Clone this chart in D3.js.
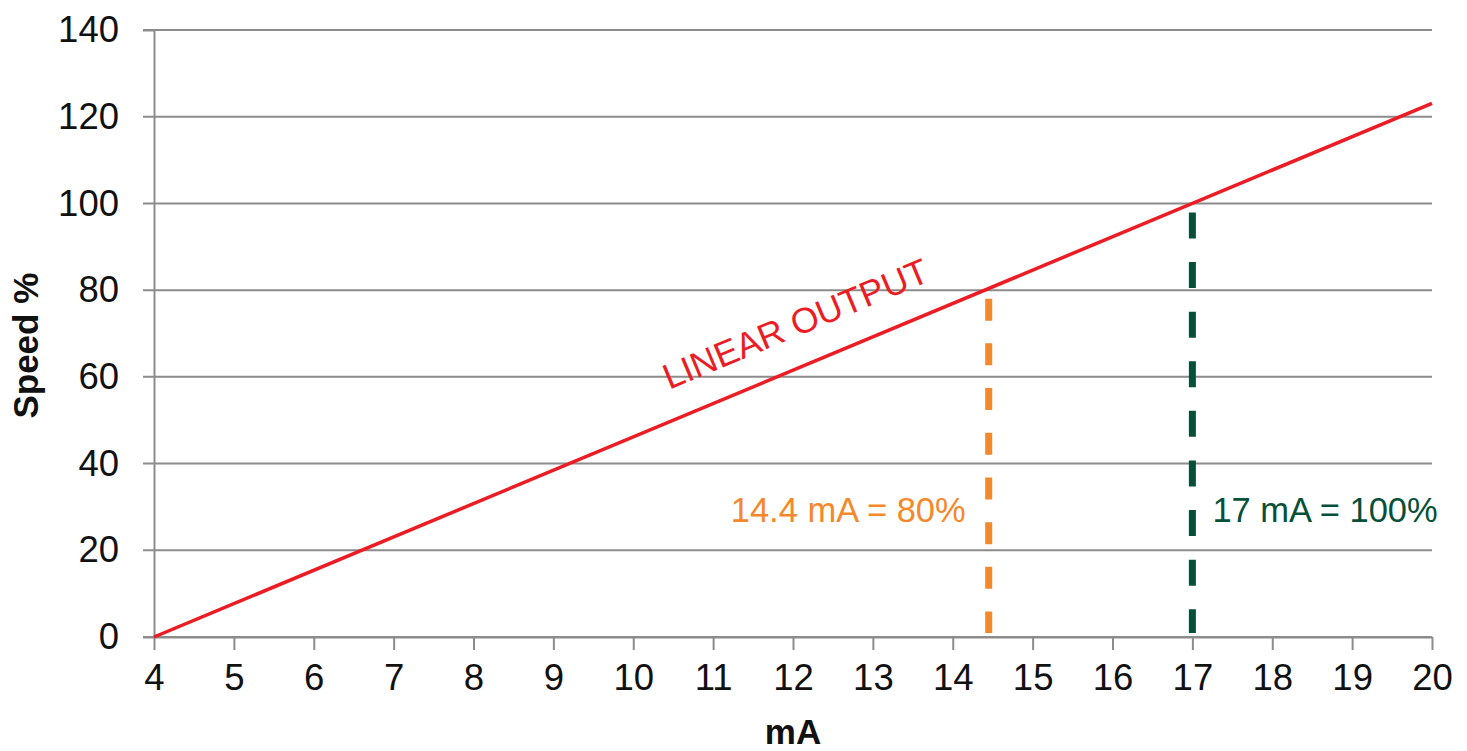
<!DOCTYPE html>
<html>
<head>
<meta charset="utf-8">
<script src="https://cdn.jsdelivr.net/npm/d3@7"></script>
<style>
  body { margin: 0; background: #fff; }
  svg { display: block; font-family: "Liberation Sans", Arial, sans-serif; }
</style>
</head>
<body>
<div id="chart"></div>
<script>
// Data
const lineMA = [4, 20];
const lineSpeed = [0, 123.08];
const xTicks = [4, 5, 6, 7, 8, 9, 10, 11, 12, 13, 14, 15, 16, 17, 18, 19, 20];
const yTicks = [0, 20, 40, 60, 80, 100, 120, 140];
const markerMA = [14.45, 17];
const markerSpeed = [80, 100];
const markerLabels = ["14.4 mA = 80%", "17 mA = 100%"];

const W = 1467, H = 751;
const margin = { top: 30, right: 35, bottom: 114, left: 154 };
const width = W - margin.left - margin.right;
const height = H - margin.top - margin.bottom;

const svg = d3.select("#chart").append("svg")
    .attr("width", W)
    .attr("height", H);

const g = svg.append("g")
    .attr("transform", `translate(${margin.left},${margin.top})`);

const x = d3.scaleLinear().domain([4, 20]).range([0, width]);
const y = d3.scaleLinear().domain([0, 140]).range([height, 0]);

const gray = "#8c8c8c";

// Gridlines (extend left of the axis as ticks)
g.append("g")
    .selectAll("line")
    .data(yTicks)
    .enter().append("line")
    .attr("x1", -11)
    .attr("x2", width)
    .attr("y1", d => y(d))
    .attr("y2", d => y(d))
    .attr("stroke", gray)
    .attr("stroke-width", 2);

// Y axis
const yAxis = g.append("g")
    .call(d3.axisLeft(y).tickValues(yTicks).tickSize(11).tickPadding(24));
yAxis.select(".domain").attr("stroke", gray).attr("stroke-width", 2);
yAxis.selectAll(".tick line").remove();
yAxis.selectAll("text")
    .style("font-size", "36.5px")
    .attr("fill", "#111");

// X axis
const xAxis = g.append("g")
    .attr("transform", `translate(0,${height})`)
    .call(d3.axisBottom(x).tickValues(xTicks).tickSize(13).tickSizeOuter(0).tickPadding(14));
xAxis.select(".domain").attr("stroke", gray).attr("stroke-width", 2);
xAxis.selectAll(".tick line").attr("stroke", gray).attr("stroke-width", 2);
xAxis.selectAll("text")
    .style("font-size", "36.5px")
    .attr("fill", "#111");

// Axis titles
svg.append("text")
    .attr("transform", `translate(38,${margin.top + height * 0.52}) rotate(-90)`)
    .attr("text-anchor", "middle")
    .style("font-size", "35px")
    .style("font-weight", "bold")
    .attr("fill", "#111")
    .text("Speed %");

svg.append("text")
    .attr("x", margin.left + width / 2)
    .attr("y", 744)
    .attr("text-anchor", "middle")
    .style("font-size", "35px")
    .style("font-weight", "bold")
    .attr("fill", "#111")
    .text("mA");

// Dashed marker lines
const markerColors = ["#f5882a", "#06503a"];
const markerDash = ["22 22.7", "26 23.6"];
const markerTopGap = [8.5, 9];

g.append("g")
    .selectAll("line")
    .data(markerMA)
    .enter().append("line")
    .attr("x1", d => x(d))
    .attr("x2", d => x(d))
    .attr("y1", (d, i) => y(markerSpeed[i]) + markerTopGap[i])
    .attr("y2", y(0) - 4)
    .attr("stroke", (d, i) => markerColors[i])
    .attr("stroke-width", 7)
    .attr("stroke-dasharray", (d, i) => markerDash[i]);

// Marker labels
g.append("text")
    .attr("x", x(markerMA[0]) - 23)
    .attr("y", 492)
    .attr("text-anchor", "end")
    .style("font-size", "34.5px")
    .attr("fill", markerColors[0])
    .text(markerLabels[0]);

g.append("text")
    .attr("x", x(markerMA[1]) + 20)
    .attr("y", 492)
    .attr("text-anchor", "start")
    .style("font-size", "34.5px")
    .attr("fill", markerColors[1])
    .text(markerLabels[1]);

// Linear output line
const lineData = lineMA.map((d, i) => ({ ma: d, speed: lineSpeed[i] }));
g.append("path")
    .datum(lineData)
    .attr("fill", "none")
    .attr("stroke", "#ec1c24")
    .attr("stroke-width", 3.5)
    .attr("d", d3.line().x(d => x(d.ma)).y(d => y(d.speed)));

// Line label, rotated along the line
const angle = Math.atan2(y(lineSpeed[1]) - y(lineSpeed[0]), x(lineMA[1]) - x(lineMA[0])) * 180 / Math.PI;
g.append("text")
    .attr("transform", `translate(${x(10.45)},${y(57.0)}) rotate(${angle})`)
    .style("font-size", "35.5px")
    .attr("fill", "#ec1c24")
    .text("LINEAR OUTPUT");
</script>
</body>
</html>
